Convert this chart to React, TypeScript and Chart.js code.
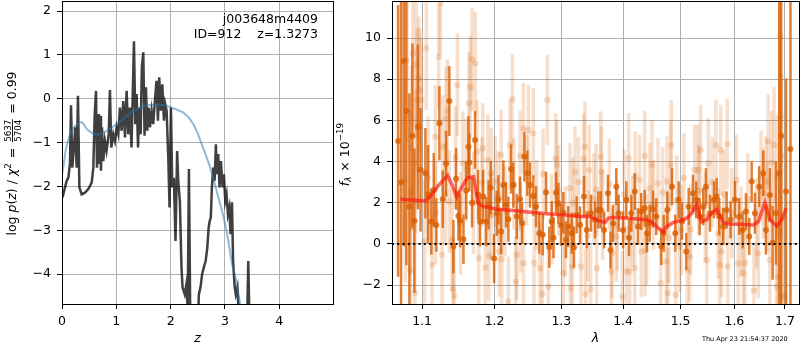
import React, { useEffect, useRef } from 'react';
import { Chart, registerables } from 'chart.js';

Chart.register(...registerables);

const FONT = 'DejaVu Sans';

// ---------------- Left panel: p(z) ----------------
const zTicks = [0, 1, 2, 3, 4];
const logpTicks = [-4, -3, -2, -1, 0, 1, 2];
const zRange = [0, 4.99];
const logpRange = [-4.68, 2.23];

const zModel = [0, 0.024, 0.07, 0.147, 0.24, 0.33, 0.36, 0.4, 0.455, 0.55, 0.64, 0.73, 0.82, 0.91, 1.0, 1.1, 1.19, 1.31, 1.44, 1.53, 1.62, 1.74, 1.85, 1.93, 2.0, 2.1, 2.23, 2.33, 2.42, 2.5, 2.57, 2.65, 2.73, 2.8, 2.88, 2.96, 3.03, 3.08, 3.13, 3.18, 3.22, 3.28, 3.35];
const logpModel = [-1.71, -1.57, -1.15, -0.81, -0.62, -0.54, -0.53, -0.58, -0.69, -0.78, -0.82, -0.8, -0.73, -0.66, -0.58, -0.49, -0.39, -0.28, -0.2, -0.16, -0.14, -0.13, -0.14, -0.16, -0.19, -0.24, -0.31, -0.42, -0.58, -0.79, -1.03, -1.29, -1.57, -1.88, -2.25, -2.62, -3.01, -3.38, -3.77, -4.0, -4.23, -4.69, -5.3];

const zChi = [
  0.01, 0.055, 0.086, 0.117, 0.147, 0.166, 0.19, 0.22, 0.245, 0.27,
  0.294, 0.32, 0.362, 0.423, 0.485, 0.546, 0.577, 0.6, 0.626, 0.644,
  0.663, 0.681, 0.7, 0.718, 0.736, 0.76, 0.79, 0.82, 0.86, 0.883,
  0.908, 0.945, 0.975, 1.006, 1.037, 1.067, 1.098, 1.129, 1.16, 1.19,
  1.22, 1.25, 1.28, 1.3, 1.325, 1.35, 1.374, 1.4, 1.423, 1.448,
  1.47, 1.497, 1.52, 1.546, 1.57, 1.595, 1.62, 1.65, 1.68, 1.71,
  1.74, 1.767, 1.79, 1.82, 1.847, 1.877, 1.9, 1.926, 1.957, 1.98,
  2.006, 2.03, 2.06, 2.09, 2.12, 2.14, 2.17, 2.2, 2.22, 2.26,
  2.29, 2.315, 2.337, 2.36, 2.42, 2.49, 2.52, 2.55, 2.58, 2.61,
  2.645, 2.675, 2.7, 2.72, 2.74, 2.76, 2.785, 2.81, 2.834, 2.85,
  2.877, 2.9, 2.926, 2.957, 2.98, 3.006, 3.03, 3.055, 3.08, 3.104,
  3.13, 3.15, 3.18, 3.2, 3.23, 3.25, 3.28, 3.4, 3.43, 3.46,
  3.6,
];
const logpChi = [
  -2.25, -2.02, -1.87, -1.8, -1.49, -0.15, -1.57, -1.11, -0.65, -1.57,
  0.07, -2.02, -2.18, -2.14, -2.06, -1.91, -1.57, -0.43, 0.18, -1.57,
  -0.35, -1.49, -0.39, -1.64, -0.65, -1.42, -0.96, -1.19, -0.81, 0.2,
  -1.11, -0.81, -0.96, -0.65, -0.81, -0.2, -0.73, -0.05, -0.88, 0.18,
  -0.81, -0.2, -1.11, -0.05, 1.31, -0.58, 0.11, -1.11, -0.2, -0.81,
  0.72, 1.06, -0.84, 0.26, -0.73, -0.2, -0.65, -0.27, -0.58, -0.05,
  0.41, -0.5, 0.49, -0.27, 0.33, -0.5, -0.12, -0.27, -1.34, -2.48,
  -0.2, -2.02, -1.8, -3.24, -1.19, -1.87, -2.33, -3.85, -4.3, -4.46,
  -4.23, -4.8, -1.6, -4.8, -5.6, -5.6, -4.46, -4.3, -4.0, -3.85,
  -3.7, -3.4, -2.94, -2.79, -2.71, -2.02, -1.57, -1.87, -1.04, -1.72,
  -1.26, -2.02, -1.42, -2.02, -1.72, -2.33, -2.18, -2.63, -2.48, -3.09,
  -2.36, -3.7, -4.3, -4.46, -4.3, -4.77, -5.6, -5.6, -3.7, -5.6,
  -5.6,
];

const objName = 'j003648m4409';
const objInfo = 'ID=912    z=1.3273';

// ---------------- Right panel: spectrum ----------------
const waveTicks = [1.1, 1.2, 1.3, 1.4, 1.5, 1.6, 1.7];
const fluxTicks = [-2, 0, 2, 4, 6, 8, 10];
const waveRange = [1.061, 1.729];
const fluxRange = [-2.92, 11.8];

const darkWave = [
  1.0688, 1.0726, 1.0761, 1.0794, 1.0834, 1.0873, 1.0899, 1.0944, 1.098, 1.1044,
  1.108, 1.1123, 1.1155, 1.119, 1.1231, 1.1276, 1.1321, 1.1366, 1.1421, 1.1458,
  1.149, 1.1513, 1.156, 1.1597, 1.1629, 1.1642, 1.168, 1.1722, 1.1764, 1.1792,
  1.1835, 1.1878, 1.1914, 1.1945, 1.1993, 1.2031, 1.2055, 1.2094, 1.2127, 1.2166,
  1.22, 1.2239, 1.2273, 1.2323, 1.2372, 1.2402, 1.2436, 1.2481, 1.2521, 1.2571,
  1.2611, 1.2661, 1.2713, 1.2764, 1.2814, 1.2851, 1.2879, 1.2918, 1.2954, 1.2996,
  1.3031, 1.3073, 1.3109, 1.3163, 1.3199, 1.3242, 1.3295, 1.3359, 1.3402, 1.3471,
  1.3537, 1.359, 1.363, 1.3684, 1.3749, 1.379, 1.3832, 1.3887, 1.3926, 1.3999,
  1.4055, 1.41, 1.4139, 1.4197, 1.4253, 1.4309, 1.4368, 1.4407, 1.4454, 1.4511,
  1.4569, 1.4657, 1.4699, 1.4763, 1.4846, 1.4905, 1.4966, 1.5025, 1.5103, 1.5146,
  1.5225, 1.5285, 1.5347, 1.5414, 1.5464, 1.5538, 1.5613, 1.5663, 1.5712, 1.5788,
  1.5852, 1.5928, 1.601, 1.6093, 1.6159, 1.6224, 1.6288, 1.6335, 1.64, 1.6484,
  1.6564, 1.6617, 1.6697, 1.6751, 1.6818, 1.6885, 1.6925, 1.7023, 1.7114,
];
const darkFlux = [
  5.0, 3.0, 8.88, 6.46, 1.81, 5.24, 1.13, 5.68, 3.6, 3.43,
  2.4, 1.08, 2.62, 0.92, 5.86, 2.17, 3.9, 6.94, -0.13, 3.16,
  1.36, 1.13, 0.23, 2.6, 4.72, 3.95, 2.0, 5.05, 2.4, 1.08,
  2.3, 1.08, 1.9, 2.73, -0.71, 1.49, 2.14, 0.6, 2.86, 1.9,
  1.2, 3.64, 2.86, 1.33, 2.17, 1.0, 4.24, 3.43, 2.86, 2.33,
  1.81, 0.52, 0.44, 2.51, -0.16, 1.08, 0.3, 2.49, 1.97, 0.9,
  1.52, 0.2, 0.84, 0.52, -0.16, 1.41, 0.92, 2.3, 0.68, 1.49,
  1.17, 1.65, 1.65, 0.68, 2.46, -0.3, 1.0, 2.78, 1.49, 0.68,
  2.14, 0.3, 1.49, 2.54, 0.84, 1.57, 1.73, 0.5, 1.0, 1.68,
  1.33, -0.13, 0.52, 1.65, 2.78, 0.52, 2.14, 1.1, -0.37, 1.81,
  2.46, 2.14, 1.33, 1.81, 2.78, 1.49, 2.14, 2.3, 1.33, 0.84,
  1.65, 1.17, 2.14, 1.33, 0.68, 1.57, 0.36, 3.03, 1.49, 2.78,
  3.43, 0.68, 2.38, 0.06, 1.49, 3.43, 5.24, 2.54, 4.61,
];
const darkErr = [
  6.6, 9.0, 9.0, 7.5, 5.5, 4.5, 3.5, 4.0, 3.0, 2.2,
  2.4, 1.6, 1.8, 1.3, 1.8, 1.4, 1.6, 1.7, 1.3, 1.5,
  1.2, 1.3, 1.2, 1.4, 1.5, 1.4, 1.2, 1.4, 1.2, 1.2,
  1.3, 1.2, 1.2, 1.3, 1.2, 1.1, 1.2, 1.1, 1.2, 1.1,
  1.1, 1.2, 1.1, 1.1, 1.1, 1.0, 1.2, 1.1, 1.1, 1.0,
  1.0, 1.0, 1.0, 1.0, 1.0, 1.0, 1.0, 1.0, 1.0, 1.0,
  1.0, 0.9, 1.0, 1.0, 1.0, 0.9, 0.9, 1.0, 0.9, 0.9,
  0.9, 0.9, 0.9, 0.9, 0.9, 0.9, 0.9, 0.9, 0.9, 0.9,
  0.9, 0.9, 0.9, 0.9, 0.9, 0.9, 0.9, 0.9, 0.9, 0.9,
  0.9, 0.9, 0.9, 0.9, 0.9, 0.9, 0.9, 0.9, 0.9, 0.9,
  0.9, 0.9, 0.9, 0.9, 0.9, 0.9, 0.9, 0.9, 0.9, 0.9,
  0.9, 0.9, 0.9, 0.9, 0.9, 0.9, 0.9, 1.0, 1.0, 1.0,
  1.1, 1.2, 1.3, 1.8, 2.5, 9.0, 9.0, 5.5, 12.0,
];

const lightWave = [
  1.0781, 1.0803, 1.0847, 1.086, 1.0878, 1.0904, 1.0921, 1.0934, 1.0956, 1.0969,
  1.099, 1.1034, 1.1056, 1.1132, 1.1177, 1.1222, 1.1244, 1.1267, 1.1276, 1.1321,
  1.1339, 1.1366, 1.1403, 1.1417, 1.143, 1.1476, 1.1552, 1.1634, 1.1656, 1.168,
  1.1726, 1.175, 1.1774, 1.1831, 1.1868, 1.1903, 1.1917, 1.1949, 1.2007, 1.2065,
  1.2094, 1.2104, 1.2199, 1.2224, 1.2258, 1.2308, 1.2323, 1.2372, 1.2421, 1.2424,
  1.2496, 1.2571, 1.2582, 1.2672, 1.2707, 1.2784, 1.2799, 1.2913, 1.2929, 1.3031,
  1.3136, 1.3144, 1.3172, 1.3215, 1.3311, 1.3354, 1.3375, 1.3383, 1.3444, 1.3466,
  1.3553, 1.3564, 1.363, 1.364, 1.3805, 1.3813, 1.3887, 1.3987, 1.4055, 1.4095,
  1.4112, 1.4197, 1.4207, 1.4309, 1.4368, 1.4373, 1.4454, 1.4494, 1.4599, 1.4646,
  1.4745, 1.4757, 1.4771, 1.4823, 1.4833, 1.4912, 1.4984, 1.5013, 1.5121, 1.5164,
  1.5255, 1.5316, 1.5365, 1.5477, 1.5507, 1.565, 1.5725, 1.5738, 1.5757, 1.5863,
  1.5873, 1.6074, 1.6171, 1.6204, 1.638, 1.6465, 1.6564, 1.6617, 1.6663, 1.6697,
  1.6731, 1.6778, 1.6832, 1.6844, 1.6854, 1.6899, 1.6909, 1.6933, 1.6939, 1.085,
  1.092, 1.108, 1.118, 1.131, 1.145, 1.152, 1.16, 1.17, 1.182, 1.195,
  1.205, 1.215, 1.228, 1.238, 1.247, 1.262, 1.272, 1.285, 1.296, 1.306,
  1.318, 1.327, 1.342, 1.352, 1.366, 1.377, 1.39, 1.402, 1.416, 1.428,
  1.44, 1.452, 1.468, 1.479, 1.493, 1.506, 1.518, 1.533, 1.545, 1.558,
  1.569, 1.58, 1.595, 1.604, 1.613, 1.626, 1.643, 1.652, 1.664, 1.7,
];
const lightFlux = [
  3.11, 8.93, -1.26, 4.64, 9.26, -2.39, 8.69, 6.99, 8.04, 7.48,
  6.99, 0.11, 9.5, -1.02, 5.21, 9.09, 11.68, -0.53, 4.72, 6.1,
  6.46, 2.06, 0.19, -2.2, -2.52, 7.72, 3.92, 6.83, 7.61, 8.96,
  8.77, 4.48, -0.7, 4.64, -1.15, 4.08, -0.58, 3.43, 3.03, -0.37,
  4.32, -0.74, -2.8, 4.81, 7.02, -1.83, -0.53, 4.27, 5.61, -0.94,
  5.53, 5.37, -0.94, -1.18, -2.43, 6.99, -2.07, 4.16, 3.83, -1.42,
  2.7, -2.15, -1.1, 3.51, -1.1, 4.14, 4.72, -2.43, 3.59, -2.2,
  2.65, -1.18, 4.24, 3.51, -1.34, -0.45, 0.36, -2.56, -1.34, 4.16,
  -1.34, -1.18, 3.27, -0.37, 4.27, -0.32, 2.7, 3.83, 2.94, -1.91,
  -0.86, 3.03, -2.39, 3.83, 4.79, -2.48, -0.13, 0.68, -1.26, -0.61,
  3.59, 3.59, 4.56, -0.78, 3.92, 4.81, -1.02, 4.56, -0.37, 4.85,
  -1.1, -0.94, -1.42, -0.94, -2.27, -0.45, 2.46, 3.03, 4.97, -0.78,
  3.95, 4.81, -2.07, 3.24, -1.59, 10.1, 6.18, 4.27, -2.48, 2.5,
  4.0, 3.2, 1.5, 2.4, 4.2, 1.0, 3.6, 2.0, 3.0, 1.4,
  2.3, 1.6, 2.9, 0.8, 3.1, 1.9, 3.4, 1.2, 2.6, 0.6,
  2.0, 3.0, 0.4, 2.2, 1.4, 2.9, 0.9, 2.4, 1.1, 3.1,
  0.2, 1.9, 2.5, 0.3, 2.1, 3.2, 0.7, 2.6, 1.3, 3.0,
  0.5, 2.4, 1.5, 3.1, 0.6, 2.2, 1.0, 3.3, 1.8, -2.6,
];
const lightErr = [
  5.0, 4.0, 4.0, 4.0, 3.5, 3.5, 3.5, 3.5, 3.0, 3.0,
  3.0, 3.0, 3.0, 2.5, 2.5, 2.5, 2.5, 2.5, 2.5, 2.5,
  2.5, 2.5, 2.5, 2.5, 2.5, 2.5, 2.5, 2.5, 2.5, 2.5,
  2.5, 2.5, 2.5, 2.2, 2.2, 2.2, 2.2, 2.2, 2.2, 2.2,
  2.2, 2.2, 2.2, 2.2, 2.2, 2.2, 2.2, 2.2, 2.2, 2.2,
  2.2, 2.2, 2.2, 2.2, 2.2, 2.2, 2.2, 2.2, 2.2, 2.2,
  2.2, 2.2, 2.2, 2.2, 2.2, 2.2, 2.2, 2.2, 2.2, 2.2,
  2.2, 2.2, 2.2, 2.2, 2.2, 2.2, 2.2, 2.2, 2.2, 2.2,
  2.2, 2.2, 2.2, 2.2, 2.2, 2.2, 2.2, 2.2, 2.2, 2.2,
  2.2, 2.2, 2.2, 2.2, 2.2, 2.2, 2.2, 2.2, 2.2, 2.2,
  2.2, 2.2, 2.2, 2.2, 2.2, 2.2, 2.2, 2.2, 2.2, 2.2,
  2.2, 2.2, 2.2, 2.2, 2.2, 2.2, 2.2, 2.2, 2.3, 2.5,
  2.5, 2.8, 3.0, 3.0, 3.5, 4.0, 4.0, 4.0, 4.0, 4.0,
  3.5, 3.0, 2.5, 2.5, 2.5, 2.5, 2.5, 2.5, 2.2, 2.2,
  2.2, 2.2, 2.2, 2.2, 2.2, 2.2, 2.2, 2.2, 2.2, 2.2,
  2.2, 2.2, 2.2, 2.2, 2.2, 2.2, 2.2, 2.2, 2.2, 2.2,
  2.2, 2.2, 2.2, 2.2, 2.2, 2.2, 2.2, 2.2, 2.2, 2.2,
  2.2, 2.2, 2.2, 2.2, 2.2, 2.2, 2.2, 2.2, 2.2, 4.0,
];

const modelWave = [1.0718, 1.1044, 1.111, 1.1222, 1.1342, 1.1403, 1.1466, 1.1541, 1.161, 1.1703, 1.1764, 1.1844, 1.2036, 1.2273, 1.2521, 1.2775, 1.3031, 1.3295, 1.3455, 1.3564, 1.37, 1.3755, 1.3837, 1.4117, 1.4401, 1.4488, 1.4604, 1.4693, 1.4752, 1.487, 1.4989, 1.511, 1.5201, 1.5292, 1.5384, 1.5477, 1.5569, 1.5663, 1.5788, 1.5915, 1.6107, 1.6367, 1.6465, 1.6597, 1.6697, 1.6833, 1.6935, 1.7023];
const modelFlux = [2.17, 2.09, 2.3, 2.86, 3.33, 2.86, 2.3, 2.78, 3.19, 3.27, 1.97, 1.81, 1.68, 1.62, 1.54, 1.47, 1.41, 1.33, 1.33, 1.17, 1.04, 1.25, 1.29, 1.25, 1.17, 1.08, 0.76, 0.57, 0.84, 1.04, 1.13, 1.25, 1.49, 1.91, 1.08, 1.17, 1.49, 1.68, 1.04, 0.97, 0.95, 0.92, 1.08, 2.0, 1.17, 0.87, 1.17, 1.73];

const stamp = 'Thu Apr 23 21:54:37 2020';

type Seg = { t?: string; it?: boolean; sup?: boolean; sub?: boolean; num?: string; den?: string };
const leftLabel: Seg[] = [
  { t: 'log ' }, { t: 'p', it: true }, { t: '(' }, { t: 'z', it: true }, { t: ') / ' },
  { t: 'χ', it: true }, { t: '2', sup: true }, { t: ' = ' }, { num: '5637', den: '5704' }, { t: ' = 0.99' },
];
const rightLabel: Seg[] = [
  { t: 'f', it: true }, { t: 'λ', it: true, sub: true }, { t: ' × 10' }, { t: '−19', sup: true },
];

// ---------------- helpers ----------------
const fnt = (s: number, it?: boolean) => `${it ? 'italic ' : ''}${s}px "${FONT}"`;

function drawMath(ctx: CanvasRenderingContext2D, segs: Seg[], cx: number, cy: number, size: number) {
  ctx.save();
  ctx.translate(cx, cy);
  ctx.rotate(-Math.PI / 2);
  const small = size * 0.7;
  const widths = segs.map((s) => {
    if (s.num !== undefined) {
      ctx.font = fnt(small);
      return Math.max(ctx.measureText(s.num).width, ctx.measureText(s.den || '').width) + size * 0.3;
    }
    ctx.font = fnt(s.sup || s.sub ? small : size, s.it);
    return ctx.measureText(s.t || '').width + (s.sup || s.sub ? 1 : 0);
  });
  const total = widths.reduce((a, b) => a + b, 0);
  let x = -total / 2;
  const base = size * 0.36;
  ctx.fillStyle = '#000';
  ctx.textBaseline = 'alphabetic';
  segs.forEach((s, i) => {
    const w = widths[i];
    if (s.num !== undefined) {
      ctx.font = fnt(small);
      ctx.textAlign = 'center';
      const mid = x + w / 2;
      const axis = base - size * 0.3;
      ctx.fillText(s.num, mid, axis - size * 0.13);
      ctx.fillText(s.den || '', mid, axis + size * 0.13 + small * 0.74);
      ctx.fillRect(x + size * 0.12, axis - 0.45, w - size * 0.24, 0.9);
    } else {
      ctx.font = fnt(s.sup || s.sub ? small : size, s.it);
      ctx.textAlign = 'left';
      const dy = s.sup ? -size * 0.42 : s.sub ? size * 0.22 : 0;
      ctx.fillText(s.t || '', x, base + dy);
    }
    x += w;
  });
  ctx.restore();
}

const fmtInt = (v: number) => String(Math.round(v)).replace('-', '\u2212');
const fmt1 = (v: number) => v.toFixed(1).replace('-', '\u2212');

function axisOpts(ticks: number[], kind: 'x' | 'y', fmt: (v: number) => string, fixed: number, title?: string) {
  return {
    bounds: 'data',
    afterBuildTicks: (s: any) => {
      s.ticks = ticks.map((v) => ({ value: v }));
    },
    afterFit: (s: any) => {
      if (kind === 'x') s.height = fixed;
      else s.width = fixed;
      s.paddingLeft = 0;
      s.paddingRight = 0;
      s.paddingTop = 0;
      s.paddingBottom = 0;
    },
    grid: { color: '#b0b0b0', lineWidth: 1, tickColor: '#000', tickLength: 5, tickWidth: 1, drawOnChartArea: true },
    border: { display: false },
    ticks: {
      color: '#000',
      font: { family: FONT, size: 12.5 },
      padding: kind === 'x' ? 5 : 6,
      autoSkip: false,
      maxRotation: 0,
      minRotation: 0,
      callback: (v: any) => fmt(Number(v)),
    },
    title: title
      ? { display: true, text: title, color: '#000', font: { family: FONT, size: 12.5, style: 'italic' }, padding: { top: 0, bottom: 4 } }
      : { display: false },
  };
}

const framePlugin = {
  id: 'frame',
  afterDraw(chart: any) {
    const { ctx, chartArea: a } = chart;
    ctx.save();
    ctx.strokeStyle = '#000';
    ctx.lineWidth = 1;
    ctx.strokeRect(a.left + 0.5, a.top + 0.5, a.right - a.left, a.bottom - a.top);
    ctx.restore();
  },
};

const errPlugin = {
  id: 'errbars',
  beforeDatasetDraw(chart: any, args: any) {
    const ds = chart.data.datasets[args.index];
    if (!ds.errors) return;
    const { ctx, chartArea: a, scales } = chart;
    const xs = scales.x;
    const ys = scales.y;
    ctx.save();
    ctx.beginPath();
    ctx.rect(a.left, a.top, a.right - a.left, a.bottom - a.top);
    ctx.clip();
    ctx.strokeStyle = ds.errColor;
    ctx.lineWidth = ds.errWidth;
    ctx.lineCap = 'butt';
    ds.data.forEach((p: any, i: number) => {
      const e = ds.errors[i];
      const px = xs.getPixelForValue(p.x);
      ctx.beginPath();
      ctx.moveTo(px, ys.getPixelForValue(p.y - e));
      ctx.lineTo(px, ys.getPixelForValue(p.y + e));
      ctx.stroke();
    });
    ctx.restore();
  },
};

const leftTextPlugin = {
  id: 'leftText',
  afterDraw(chart: any) {
    const { ctx } = chart;
    ctx.save();
    ctx.fillStyle = '#000';
    ctx.font = fnt(12.5);
    ctx.textAlign = 'right';
    ctx.textBaseline = 'middle';
    ctx.fillText(objName, 318, 20);
    ctx.fillText(objInfo, 318, 34.5);
    ctx.restore();
    drawMath(ctx, leftLabel, 11.7, 153.5, 12.5);
  },
};

const rightTextPlugin = {
  id: 'rightText',
  afterDraw(chart: any) {
    const { ctx } = chart;
    drawMath(ctx, rightLabel, 14, 154, 12.5);
    ctx.save();
    ctx.fillStyle = '#000';
    ctx.font = fnt(6.5);
    ctx.textAlign = 'right';
    ctx.textBaseline = 'middle';
    ctx.fillText(stamp, 457.7, 339.5);
    ctx.restore();
  },
};

const pts = (xs: number[], ys: number[]) => xs.map((x, i) => ({ x, y: ys[i] }));

function leftConfig(): any {
  return {
    type: 'line',
    data: {
      datasets: [
        { data: pts(zModel, logpModel), borderColor: 'rgba(31,119,180,0.5)', borderWidth: 2, pointRadius: 0, tension: 0, fill: false },
        { data: pts(zChi, logpChi), borderColor: 'rgba(0,0,0,0.75)', borderWidth: 2.5, pointRadius: 0, tension: 0, fill: false },
      ],
    },
    options: {
      responsive: false,
      animation: false,
      events: [],
      layout: { padding: { top: 1, right: 12, bottom: 0, left: 0 }, autoPadding: false },
      plugins: { legend: { display: false }, tooltip: { enabled: false } },
      scales: {
        x: { type: 'linear', min: zRange[0], max: zRange[1], ...axisOpts(zTicks, 'x', fmtInt, 46, 'z') },
        y: { type: 'linear', min: logpRange[0], max: logpRange[1], ...axisOpts(logpTicks, 'y', fmtInt, 62) },
      },
    },
    plugins: [framePlugin, leftTextPlugin],
  };
}

function rightConfig(): any {
  return {
    type: 'scatter',
    data: {
      datasets: [
        {
          data: [{ x: waveRange[0], y: 0 }, { x: waveRange[1], y: 0 }],
          showLine: true, borderColor: '#000', borderWidth: 2, borderDash: [2, 3.3], pointRadius: 0,
        },
        {
          data: pts(modelWave, modelFlux),
          showLine: true, borderColor: 'rgba(255,20,10,0.65)', borderWidth: 3.5, pointRadius: 0, tension: 0,
        },
        {
          data: pts(darkWave, darkFlux), errors: darkErr, errColor: 'rgba(217,95,2,0.8)', errWidth: 2.5,
          pointRadius: 3, backgroundColor: 'rgba(217,95,2,0.8)', borderWidth: 0,
        },
        {
          data: pts(lightWave, lightFlux), errors: lightErr, errColor: 'rgba(217,95,2,0.2)', errWidth: 3.5,
          pointRadius: 3.2, backgroundColor: 'rgba(217,95,2,0.2)', borderWidth: 0,
        },
      ],
    },
    options: {
      responsive: false,
      animation: false,
      events: [],
      layout: { padding: { top: 1, right: 1, bottom: 0, left: 0 }, autoPadding: false },
      plugins: { legend: { display: false }, tooltip: { enabled: false } },
      scales: {
        x: { type: 'logarithmic', min: waveRange[0], max: waveRange[1], ...axisOpts(waveTicks, 'x', fmt1, 46, 'λ') },
        y: { type: 'linear', min: fluxRange[0], max: fluxRange[1], ...axisOpts(fluxTicks, 'y', fmtInt, 62) },
      },
    },
    plugins: [errPlugin, framePlugin, rightTextPlugin],
  };
}

export default function App() {
  const leftRef = useRef<HTMLCanvasElement>(null);
  const rightRef = useRef<HTMLCanvasElement>(null);
  useEffect(() => {
    Chart.defaults.font.family = FONT;
    const c1 = new Chart(leftRef.current as HTMLCanvasElement, leftConfig());
    const c2 = new Chart(rightRef.current as HTMLCanvasElement, rightConfig());
    return () => {
      c1.destroy();
      c2.destroy();
    };
  }, []);
  return (
    <div style={{ position: 'absolute', left: 0, top: 0, width: 800, height: 350, background: '#fff' }}>
      <canvas ref={leftRef} width={345} height={350} style={{ position: 'absolute', left: 0, top: 0 }} />
      <canvas ref={rightRef} width={470} height={350} style={{ position: 'absolute', left: 330, top: 0 }} />
    </div>
  );
}
